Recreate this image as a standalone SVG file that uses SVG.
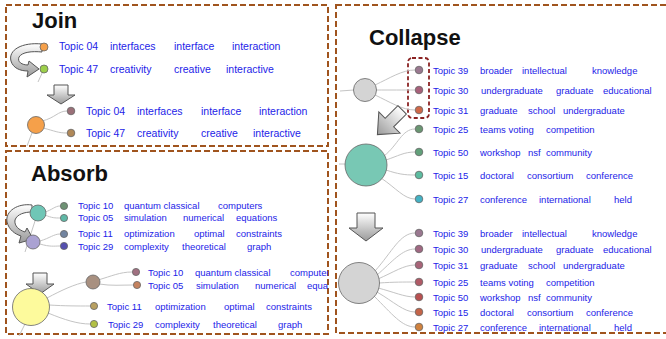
<svg xmlns="http://www.w3.org/2000/svg" width="666" height="339" viewBox="0 0 666 339">
<style>
.box{fill:none;stroke:#a0541e;stroke-width:2;stroke-dasharray:6,3}
.title{font-family:"Liberation Sans",Arial,sans-serif;font-weight:bold;font-size:22px;fill:#111}
.t{font-family:"Liberation Sans",Arial,sans-serif;fill:#2323e8}
.j{font-size:10.5px}
.s{font-size:9.5px}
.e{fill:none;stroke:#c4c4c4;stroke-width:1}
.arrow{fill:url(#ag);stroke:#555;stroke-width:1}
.n{stroke:#666;stroke-width:0.8}
</style>
<defs>
<linearGradient id="ag" x1="0" y1="0" x2="0" y2="1">
<stop offset="0" stop-color="#ffffff"/>
<stop offset="1" stop-color="#9a9a9a"/>
</linearGradient>
<clipPath id="absclip"><rect x="0" y="150" width="328" height="190"/></clipPath>
</defs>

<rect class="box" x="6" y="5" width="322" height="141"/>
<rect class="box" x="6" y="151" width="322" height="183"/>
<rect class="box" x="336" y="5" width="340" height="328"/>
<rect x="408" y="58" width="21" height="60" rx="4" fill="none" stroke="#8b2323" stroke-width="1.8" stroke-dasharray="4,2.5"/>

<g id="connectors">
<!-- Join -->
<path class="e" d="M44,69 L38,82"/>
<path class="e" d="M35,125 L27,146"/>
<path class="e" d="M42,121 C55,118 58,111 67,111"/>
<path class="e" d="M43,128 C55,131 58,133 67,133"/>
<!-- Absorb upper -->
<path class="e" d="M45,212 C52,210 55,206 60,206"/>
<path class="e" d="M45,215 C52,218 55,218 60,218"/>
<path class="e" d="M35,221 L25,252"/>
<path class="e" d="M40,241 C50,238 54,234 60,234"/>
<path class="e" d="M40,244 C50,247 54,246 60,246"/>
<!-- Absorb lower -->
<path class="e" d="M98,280 C112,276 120,272 132,272"/>
<path class="e" d="M99,284 C112,286 120,285 133,285"/>
<path class="e" d="M47,298 C62,290 75,284 86,282"/>
<path class="e" d="M49,305 C65,306 78,306 90,306"/>
<path class="e" d="M48,313 C65,320 78,324 90,324"/>
<path class="e" d="M25,324 L19,336"/>
<!-- Collapse top -->
<path class="e" d="M354,90 L340,91"/>
<path class="e" d="M375,85 C390,78 402,70 415,70"/>
<path class="e" d="M376,90 C392,90 402,90 415,90"/>
<path class="e" d="M375,95 C390,102 402,110 415,110"/>
<!-- Collapse middle -->
<path class="e" d="M345,164 L339,164"/>
<path class="e" d="M384,156 C398,145 402,129 415,129"/>
<path class="e" d="M386,160 C398,156 404,152 415,152"/>
<path class="e" d="M386,170 C398,174 404,175 415,175"/>
<path class="e" d="M381,178 C396,188 404,199 415,199"/>
<!-- Collapse bottom -->
<path class="e" d="M375,271 C392,252 400,233 415,233"/>
<path class="e" d="M377,275 C392,262 402,249 415,249"/>
<path class="e" d="M378,279 C394,272 404,265 415,265"/>
<path class="e" d="M379,283 C394,282 404,282 415,282"/>
<path class="e" d="M378,288 C394,292 404,297 415,297"/>
<path class="e" d="M377,292 C394,302 404,312 415,312"/>
<path class="e" d="M374,296 C392,314 402,327 415,327"/>
</g>

<g id="arrows">
<path class="arrow" d="M42,44 C22,42 8,50 11,61 C13,68 20,71 28,71 L27,77 L39,69 L29,61 L28,65 C22,65 17,62 19,57 C22,52 32,51 42,52 Z"/>
<path class="arrow" d="M54,85 L68,85 L68,95 L75,95 L61,104 L47,95 L54,95 Z"/>
<path class="arrow" d="M32,205 C18,203 5,211 7,222 C9,230 15,234 21,236 L19,243 L33,239 L27,228 L25,232 C19,230 14,226 15,220 C17,214 25,212 32,212 Z"/>
<path class="arrow" d="M33,273 L47,273 L47,284 L54,284 L40,294 L26,284 L33,284 Z"/>
<path class="arrow" transform="translate(388,124) rotate(45)" d="M-6,-20 L6,-20 L6,-2 L15,-2 L0,15 L-15,-2 L-6,-2 Z"/>
<path class="arrow" d="M357,213 L375,213 L375,228 L383,228 L366,241 L349,228 L357,228 Z"/>
</g>

<g id="join">
<text class="title" x="32" y="28">Join</text>
<g id="join-t04">
<circle class="n" cx="44" cy="47" r="4" fill="#f5a04a"/>
<text class="t j" y="50"><tspan x="59">Topic 04</tspan><tspan x="110">interfaces</tspan><tspan x="174">interface</tspan><tspan x="232">interaction</tspan></text>
</g>
<g id="join-t47">
<circle class="n" cx="44" cy="69" r="4" fill="#9ccf4a"/>
<text class="t j" y="73"><tspan x="59">Topic 47</tspan><tspan x="110">creativity</tspan><tspan x="174">creative</tspan><tspan x="226">interactive</tspan></text>
</g>
<g id="join-merged">
<circle class="n" cx="36" cy="125" r="8.5" fill="#f5a04a"/>
</g>
<g id="join-m04">
<circle class="n" cx="71" cy="111" r="3.8" fill="#9a7078"/>
<text class="t j" y="115"><tspan x="86">Topic 04</tspan><tspan x="137">interfaces</tspan><tspan x="201">interface</tspan><tspan x="259">interaction</tspan></text>
</g>
<g id="join-m47">
<circle class="n" cx="71" cy="133" r="3.8" fill="#b08858"/>
<text class="t j" y="137"><tspan x="86">Topic 47</tspan><tspan x="137">creativity</tspan><tspan x="201">creative</tspan><tspan x="253">interactive</tspan></text>
</g>
</g>

<g id="absorb">
<text class="title" x="31" y="181">Absorb</text>
<g id="abs-a"><circle class="n" cx="38" cy="213" r="8" fill="#6fc6b6"/></g>
<g id="abs-b"><circle class="n" cx="33" cy="242" r="7" fill="#aaa2d2"/></g>
<g id="abs-t10">
<circle class="n" cx="64" cy="206" r="3.6" fill="#6e9274"/>
<text class="t s" y="209"><tspan x="78">Topic 10</tspan><tspan x="124">quantum classical</tspan><tspan x="218">computers</tspan></text>
</g>
<g id="abs-t05">
<circle class="n" cx="64" cy="218" r="3.6" fill="#5fb8a6"/>
<text class="t s" y="221"><tspan x="78">Topic 05</tspan><tspan x="124">simulation</tspan><tspan x="183">numerical</tspan><tspan x="236">equations</tspan></text>
</g>
<g id="abs-t11">
<circle class="n" cx="64" cy="234" r="3.6" fill="#7284a0"/>
<text class="t s" y="237"><tspan x="78">Topic 11</tspan><tspan x="124">optimization</tspan><tspan x="194">optimal</tspan><tspan x="236">constraints</tspan></text>
</g>
<g id="abs-t29">
<circle class="n" cx="64" cy="246" r="3.6" fill="#5550b0"/>
<text class="t s" y="249.5"><tspan x="78">Topic 29</tspan><tspan x="124">complexity</tspan><tspan x="182">theoretical</tspan><tspan x="247">graph</tspan></text>
</g>
<g id="abs-root"><circle class="n" cx="31" cy="307" r="18.5" fill="#fdfa9c"/></g>
<g id="abs-sub"><circle class="n" cx="93" cy="282" r="7" fill="#a89080"/></g>
<g clip-path="url(#absclip)">
<g id="abs-l10">
<circle class="n" cx="136" cy="272" r="3.6" fill="#a07080"/>
<text class="t s" y="276"><tspan x="148">Topic 10</tspan><tspan x="195">quantum classical</tspan><tspan x="290">computers</tspan></text>
</g>
<g id="abs-l05">
<circle class="n" cx="137" cy="285" r="3.6" fill="#c4825e"/>
<text class="t s" y="289"><tspan x="148">Topic 05</tspan><tspan x="196">simulation</tspan><tspan x="255">numerical</tspan><tspan x="307">equations</tspan></text>
</g>
</g>
<g id="abs-l11">
<circle class="n" cx="94" cy="306" r="3.6" fill="#b8a060"/>
<text class="t s" y="310"><tspan x="107">Topic 11</tspan><tspan x="155">optimization</tspan><tspan x="224">optimal</tspan><tspan x="266">constraints</tspan></text>
</g>
<g id="abs-l29">
<circle class="n" cx="94" cy="324" r="3.6" fill="#b2c044"/>
<text class="t s" y="328"><tspan x="108">Topic 29</tspan><tspan x="155">complexity</tspan><tspan x="213">theoretical</tspan><tspan x="278">graph</tspan></text>
</g>
</g>

<g id="collapse">
<text class="title" x="369" y="45">Collapse</text>
<g id="col-top"><circle class="n" cx="365" cy="90" r="11.5" fill="#d4d4d4"/></g>
<g id="col-t39">
<circle class="n" cx="419" cy="70" r="3.8" fill="#9a7890"/>
<text class="t s" y="74"><tspan x="433">Topic 39</tspan><tspan x="480">broader</tspan><tspan x="522">intellectual</tspan><tspan x="592">knowledge</tspan></text>
</g>
<g id="col-t30">
<circle class="n" cx="419" cy="90" r="3.8" fill="#a8607a"/>
<text class="t s" y="94"><tspan x="433">Topic 30</tspan><tspan x="481">undergraduate</tspan><tspan x="556">graduate</tspan><tspan x="603">educational</tspan></text>
</g>
<g id="col-t31">
<circle class="n" cx="419" cy="110" r="3.8" fill="#d06848"/>
<text class="t s" y="114"><tspan x="433">Topic 31</tspan><tspan x="480">graduate</tspan><tspan x="528">school</tspan><tspan x="563">undergraduate</tspan></text>
</g>
<g id="col-mid"><circle class="n" cx="366" cy="165" r="21" fill="#78c8b4"/></g>
<g id="col-t25">
<circle class="n" cx="419" cy="129" r="3.8" fill="#6a9672"/>
<text class="t s" y="133"><tspan x="433">Topic 25</tspan><tspan x="480">teams voting</tspan><tspan x="546">competition</tspan></text>
</g>
<g id="col-t50">
<circle class="n" cx="419" cy="152" r="3.8" fill="#62a07a"/>
<text class="t s" y="156"><tspan x="433">Topic 50</tspan><tspan x="480">workshop</tspan><tspan x="528">nsf</tspan><tspan x="546">community</tspan></text>
</g>
<g id="col-t15">
<circle class="n" cx="419" cy="175" r="3.8" fill="#5cbca0"/>
<text class="t s" y="179"><tspan x="433">Topic 15</tspan><tspan x="480">doctoral</tspan><tspan x="527">consortium</tspan><tspan x="586">conference</tspan></text>
</g>
<g id="col-t27">
<circle class="n" cx="419" cy="199" r="3.8" fill="#44b2c4"/>
<text class="t s" y="203"><tspan x="433">Topic 27</tspan><tspan x="480">conference</tspan><tspan x="539">international</tspan><tspan x="614">held</tspan></text>
</g>
<g id="col-bot"><circle class="n" cx="359" cy="283" r="20.5" fill="#d4d4d4"/></g>
<g id="col-b39">
<circle class="n" cx="419" cy="233" r="3.8" fill="#9a7890"/>
<text class="t s" y="237"><tspan x="433">Topic 39</tspan><tspan x="480">broader</tspan><tspan x="522">intellectual</tspan><tspan x="592">knowledge</tspan></text>
</g>
<g id="col-b30">
<circle class="n" cx="419" cy="249" r="3.8" fill="#a06882"/>
<text class="t s" y="253"><tspan x="433">Topic 30</tspan><tspan x="481">undergraduate</tspan><tspan x="556">graduate</tspan><tspan x="603">educational</tspan></text>
</g>
<g id="col-b31">
<circle class="n" cx="419" cy="265" r="3.8" fill="#a86478"/>
<text class="t s" y="268.5"><tspan x="433">Topic 31</tspan><tspan x="480">graduate</tspan><tspan x="528">school</tspan><tspan x="563">undergraduate</tspan></text>
</g>
<g id="col-b25">
<circle class="n" cx="419" cy="282" r="3.8" fill="#b05a66"/>
<text class="t s" y="285.5"><tspan x="433">Topic 25</tspan><tspan x="480">teams voting</tspan><tspan x="546">competition</tspan></text>
</g>
<g id="col-b50">
<circle class="n" cx="419" cy="297" r="3.8" fill="#b85050"/>
<text class="t s" y="300.5"><tspan x="433">Topic 50</tspan><tspan x="480">workshop</tspan><tspan x="528">nsf</tspan><tspan x="546">community</tspan></text>
</g>
<g id="col-b15">
<circle class="n" cx="419" cy="312" r="3.8" fill="#c46448"/>
<text class="t s" y="315.5"><tspan x="433">Topic 15</tspan><tspan x="480">doctoral</tspan><tspan x="527">consortium</tspan><tspan x="586">conference</tspan></text>
</g>
<g id="col-b27">
<circle class="n" cx="419" cy="327" r="3.8" fill="#d0823e"/>
<text class="t s" y="331"><tspan x="433">Topic 27</tspan><tspan x="480">conference</tspan><tspan x="539">international</tspan><tspan x="614">held</tspan></text>
</g>
</g>
</svg>
